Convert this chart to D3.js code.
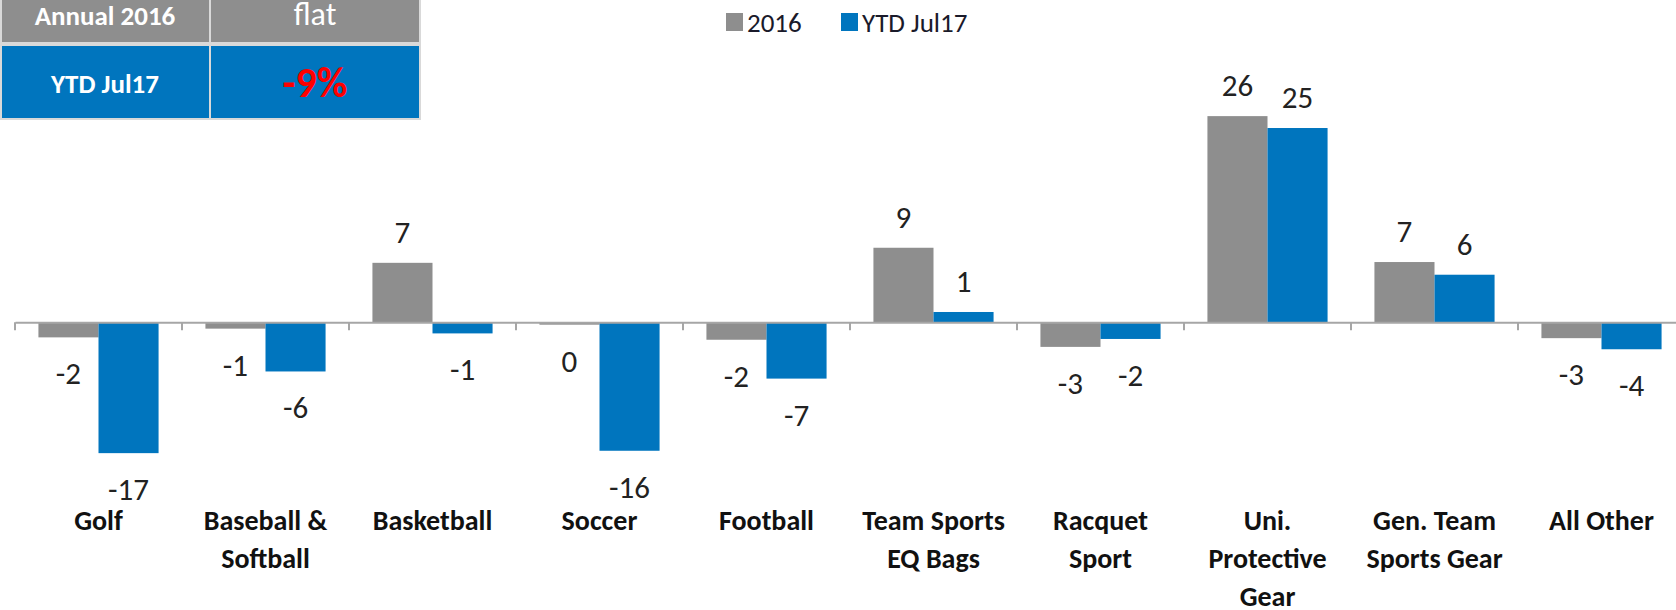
<html>
<head>
<meta charset="utf-8">
<style>
    body { margin: 0; background: #fff; }
    svg { font-family: Calibri, Carlito, Lato, sans-serif; }
    .cat { font-weight: bold; font-size: 28px; fill: #111; }
    .lbl { font-size: 31px; fill: #222; }
</style>
<script src="https://cdn.jsdelivr.net/npm/d3@7"></script>
</head>
<body>
<svg id="chart" width="1676" height="610"></svg>
<script>
    // categories (line breaks as in the original axis labels)
    let categories = ["Golf", "Baseball &\nSoftball", "Basketball", "Soccer", "Football",
        "Team Sports\nEQ Bags", "Racquet\nSport", "Uni.\nProtective\nGear", "Gen. Team\nSports Gear", "All Other"]
    let seriesNames = ["2016", "YTD Jul17"]
    // bar heights
    let values2016 = [-1.9, -0.8, 7.5, -0.3, -2.2, 9.4, -3.1, 26.0, 7.6, -2.0]
    let valuesYTD = [-16.5, -6.2, -1.4, -16.2, -7.1, 1.3, -2.1, 24.5, 6.0, -3.4]
    // data labels as printed on the chart
    let labels2016 = ["-2", "-1", "7", "0", "-2", "9", "-3", "26", "7", "-3"]
    let labelsYTD = ["-17", "-6", "-1", "-16", "-7", "1", "-2", "25", "6", "-4"]
    // summary table
    let tableRows = ["Annual 2016", "YTD Jul17"]
    let tableValues = ["flat", "-9%"]

    let colors = ["#8e8e8e", "#0075be"]
    let svg = d3.select("#chart")

    let data = categories.map((c, i) => ({
        cat: c,
        bars: [
            { s: seriesNames[0], v: values2016[i], t: labels2016[i] },
            { s: seriesNames[1], v: valuesYTD[i], t: labelsYTD[i] }
        ]
    }))

    let x0 = d3.scaleBand().domain(categories).range([15, 1685]).padding(0)
    let x1 = d3.scaleBand().domain(seriesNames).range([0, x0.bandwidth()]).paddingOuter(0.39)
    let y = d3.scaleLinear().domain([-20, 30]).range([480.9, 84.4])
    let color = d3.scaleOrdinal().domain(seriesNames).range(colors)

    // bars
    let groups = svg.selectAll(".grp")
        .data(data)
        .enter().append("g")
        .attr("transform", d => "translate(" + x0(d.cat) + ",0)")

    groups.selectAll("rect")
        .data(d => d.bars)
        .enter().append("rect")
        .attr("x", d => x1(d.s))
        .attr("width", x1.bandwidth())
        .attr("y", d => y(Math.max(0, d.v)))
        .attr("height", d => Math.abs(y(d.v) - y(0)))
        .style("fill", d => color(d.s))

    groups.selectAll(".lbl")
        .data(d => d.bars)
        .enter().append("text")
        .attr("class", "lbl")
        .attr("x", d => x1(d.s) + x1.bandwidth() / 2)
        .attr("y", d => d.v >= 0 ? y(d.v) - 20 : y(d.v) + 47)
        .attr("text-anchor", "middle")
        .text(d => d.t)

    // x axis
    let axis = svg.append("g")
        .attr("transform", "translate(0," + y(0) + ")")
        .call(d3.axisBottom(x0).tickSize(0).tickSizeOuter(0).tickFormat(""))
    axis.select(".domain").attr("stroke", "#a6a6a6").attr("stroke-width", 2)
    axis.selectAll(".tick").remove()

    let bounds = categories.map(c => x0(c))
    axis.selectAll(".sep")
        .data(bounds)
        .enter().append("line")
        .attr("x1", d => d).attr("x2", d => d)
        .attr("y1", 0).attr("y2", 8)
        .attr("stroke", "#a6a6a6").attr("stroke-width", 2)

    let catText = svg.selectAll(".cat")
        .data(categories)
        .enter().append("text")
        .attr("class", "cat")
        .attr("text-anchor", "middle")
        .attr("transform", d => "translate(" + (x0(d) + x0.bandwidth() / 2) + ",530)")
    catText.selectAll("tspan")
        .data(d => d.split("\n"))
        .enter().append("tspan")
        .attr("x", 0)
        .attr("y", (d, i) => i * 38)
        .text(d => d)

    // legend
    let legendX = d3.scaleOrdinal().domain(seriesNames).range([726, 841])
    let leg = svg.selectAll(".leg")
        .data(seriesNames)
        .enter().append("g")
        .attr("transform", d => "translate(" + legendX(d) + ",13)")
    leg.append("rect").attr("width", 17).attr("height", 18).style("fill", d => color(d))
    leg.append("text")
        .attr("x", 21).attr("y", 19)
        .style("font-size", "27px").style("fill", "#1a1a2a")
        .text(d => d)

    // summary table, top left
    let rowY = d3.scaleOrdinal().domain(tableRows).range([[-2, 45], [45, 74]])
    let tbl = svg.append("g")
    let rows = tbl.selectAll(".row")
        .data(tableRows.map((r, i) => ({ r: r, v: tableValues[i], i: i })))
        .enter().append("g")
    rows.append("rect")
        .attr("x", 1).attr("width", 419)
        .attr("y", d => rowY(d.r)[0]).attr("height", d => rowY(d.r)[1])
        .style("fill", d => colors[d.i])
        .attr("stroke", "#d9d9d9").attr("stroke-width", 2)
    rows.append("line")
        .attr("x1", 210).attr("x2", 210)
        .attr("y1", d => rowY(d.r)[0]).attr("y2", d => rowY(d.r)[0] + rowY(d.r)[1])
        .attr("stroke", "#d9d9d9").attr("stroke-width", 2)
    rows.append("text")
        .attr("x", 105).attr("y", d => d.i == 0 ? 25 : 93)
        .attr("text-anchor", "middle")
        .style("font-weight", "bold").style("font-size", "27px").style("fill", "#fff")
        .text(d => d.r)
    rows.append("text")
        .attr("x", 315).attr("y", d => d.i == 0 ? 25 : 97)
        .attr("text-anchor", "middle")
        .style("font-weight", d => d.i == 0 ? "normal" : "bold")
        .style("font-size", d => d.i == 0 ? "32px" : "42px")
        .style("fill", d => d.i == 0 ? "#fff" : "#ff0000")
        .text(d => d.v)
</script>
</body>
</html>
